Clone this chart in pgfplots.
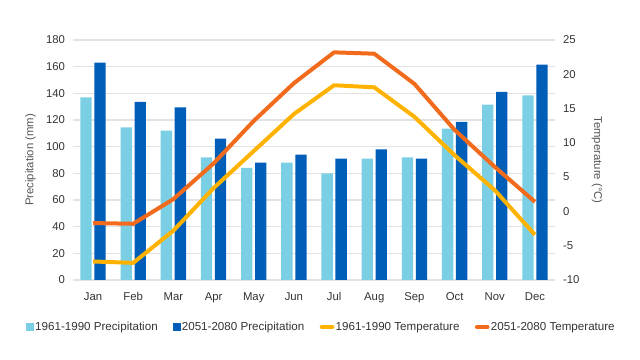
\documentclass[border=0pt]{standalone}
\usepackage{fontspec}
\setmainfont{Liberation Sans}
\usepackage{pgfplots}
\pgfplotsset{compat=1.18}
\definecolor{lightb}{HTML}{7ACFE5}
\definecolor{darkb}{HTML}{005EB8}
\definecolor{yel}{HTML}{FFB300}
\definecolor{ora}{HTML}{F26A1B}
\definecolor{txt}{HTML}{333333}
\definecolor{lbl}{HTML}{555555}
\definecolor{grd}{HTML}{E2E2E2}
\begin{document}
\begin{tikzpicture}
\path[use as bounding box] (-54.75pt,-60pt) rectangle (425.25pt,210pt);
\begin{axis}[
  at={(0,0)}, anchor=south west, scale only axis,
  width=361.5pt, height=180pt,
  xmin=-0.5, xmax=11.5, ymin=0, ymax=180,
  ytick={0,20,...,180},
  xtick={0,...,11},
  xticklabels={Jan,Feb,Mar,Apr,May,Jun,Jul,Aug,Sep,Oct,Nov,Dec},
  axis line style={draw=none}, major tick length=0pt,
  ymajorgrids, grid style={grd, line width=1.1pt},
  ybar=2pt, bar width=8.5pt,
  tick label style={font=\fontsize{8.5}{10}\selectfont, text=txt},
  /pgf/number format/assume math mode=true,
  xticklabel style={anchor=base, yshift=-15.5pt},
  yticklabel style={xshift=-2.5pt},
  ylabel={Precipitation (mm)},
  ylabel style={at={(axis description cs:0,0.5)}, anchor=center, yshift=32pt, font=\fontsize{8.5}{10}\selectfont, text=lbl},
]
\addplot[fill=lightb, draw=none] coordinates {(0,137) (1,114.5) (2,112) (3,92) (4,84) (5,88) (6,80) (7,91) (8,92) (9,113.5) (10,131.5) (11,138.5)};
\addplot[fill=darkb, draw=none] coordinates {(0,163) (1,133.5) (2,129.5) (3,106) (4,88) (5,94) (6,91) (7,98) (8,91) (9,118.5) (10,141) (11,161.5)};
\end{axis}
\begin{axis}[
  at={(0,0)}, anchor=south west, scale only axis,
  width=361.5pt, height=180pt,
  xmin=-0.5, xmax=11.5, ymin=-10, ymax=25,
  ytick={-10,-5,...,25},
  axis y line*=right, hide x axis,
  axis line style={draw=none}, major tick length=0pt,
  tick label style={font=\fontsize{8.5}{10}\selectfont, text=txt},
  /pgf/number format/assume math mode=true,
  yticklabel style={xshift=2.5pt},
  ylabel={Temperature (°C)},
  ylabel style={at={(axis description cs:1,0.5)}, anchor=center, rotate=180, yshift=31.5pt, font=\fontsize{8.5}{10}\selectfont, text=lbl},
  legend style={at={(0.515,-0.196)}, anchor=center, draw=none, fill=none,
    legend columns=4, font=\fontsize{8.7}{10}\selectfont, text=txt,
    /tikz/every even column/.append style={column sep=10.5pt},
    nodes={inner sep=1pt}},
]
\addlegendimage{legend image code/.code={\fill[lightb] (0pt,-2.6pt) rectangle (5.2pt,2.6pt);}}
\addlegendentry{1961-1990 Precipitation}
\addlegendimage{legend image code/.code={\fill[darkb] (0pt,-2.6pt) rectangle (5.2pt,2.6pt);}}
\addlegendentry{2051-2080 Precipitation}
\addplot[yel, line width=3pt, line join=round, mark=none,
  legend image code/.code={\draw[yel, line width=3pt, line cap=round] (0pt,0pt) -- (8pt,0pt);}]
  coordinates {(0,-7.3) (1,-7.5) (2,-2.8) (3,3.4) (4,8.8) (5,14.2) (6,18.4) (7,18.1) (8,13.8) (9,8.2) (10,3.1) (11,-3.4)};
\addlegendentry{1961-1990 Temperature}
\addplot[ora, line width=3pt, line join=round, mark=none,
  legend image code/.code={\draw[ora, line width=3pt, line cap=round] (0pt,0pt) -- (8pt,0pt);}]
  coordinates {(0,-1.7) (1,-1.8) (2,1.8) (3,7.0) (4,13.2) (5,18.7) (6,23.2) (7,23.0) (8,18.6) (9,11.9) (10,6.5) (11,1.4)};
\addlegendentry{2051-2080 Temperature}
\end{axis}
\end{tikzpicture}
\end{document}
